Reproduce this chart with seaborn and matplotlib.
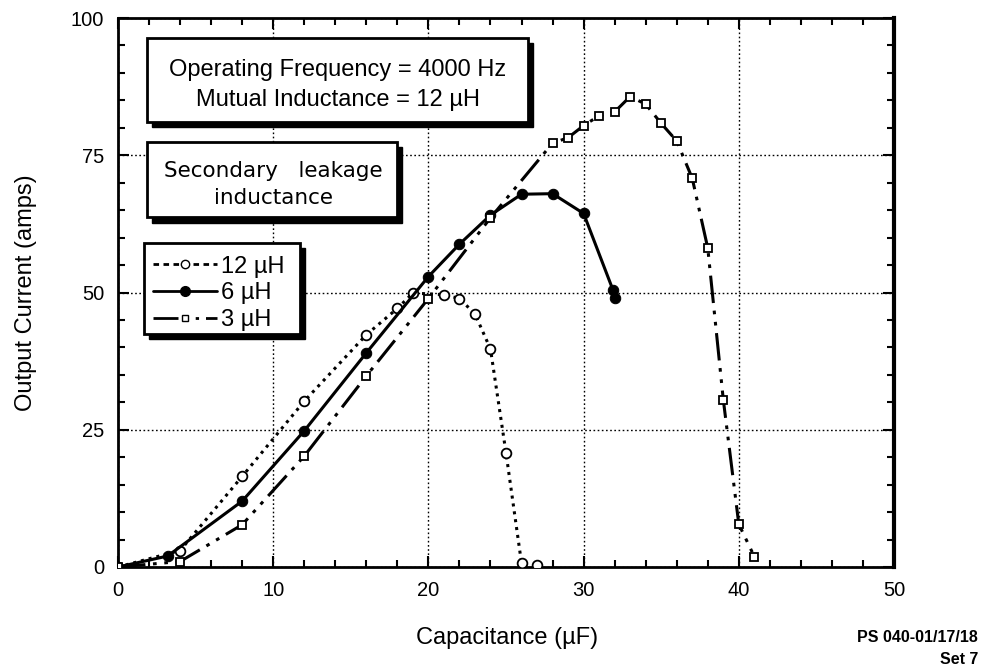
import matplotlib
matplotlib.use("Agg")
import matplotlib.pyplot as plt
from matplotlib.patches import Rectangle
from matplotlib.lines import Line2D
import seaborn as sns
import pandas as pd

# ---- data ----
cap_12uH = [0, 4, 8, 12, 16, 18, 19, 21, 22, 23, 24, 25, 26, 27]
cur_12uH = [0, 3, 16.5, 30.2, 42.3, 47.1, 49.9, 49.6, 48.9, 46.1, 39.7, 20.8, 0.7, 0.3]

cap_6uH = [0, 3.2, 8, 12, 16, 20, 22, 24, 26, 28, 30, 31.9, 32]
cur_6uH = [0, 2.0, 12.0, 24.8, 39.0, 52.9, 58.8, 64.1, 67.9, 68.0, 64.4, 50.4, 49.0]

cap_3uH = [0, 4, 8, 12, 16, 20, 24, 28, 29, 30, 31, 32, 33, 34, 35, 36, 37, 38, 39, 40, 41]
cur_3uH = [0, 1.0, 7.7, 20.2, 34.8, 48.9, 63.6, 77.2, 78.2, 80.4, 82.2, 82.9, 85.7,
           84.3, 80.8, 77.6, 70.8, 58.1, 30.5, 7.8, 1.9]

x_ticks = [0, 10, 20, 30, 40, 50]
y_ticks = [0, 25, 50, 75, 100]

series_labels = ["12 \u00b5H", "6 \u00b5H", "3 \u00b5H"]
info_lines = ["Operating Frequency = 4000 Hz", "Mutual Inductance = 12 \u00b5H"]
box2_lines = ["Secondary   leakage", "inductance"]

sns.set_theme(style="white")
plt.rcParams['font.family'] = ['Liberation Sans', 'DejaVu Sans']
for k in ["text.color", "axes.labelcolor", "xtick.color", "ytick.color", "axes.edgecolor"]:
    plt.rcParams[k] = "black"

fig = plt.figure(figsize=(9.82, 6.72), dpi=100)
ax = fig.add_axes([118/982, 1-567/672, (894-118)/982, (567-18)/672])

df12 = pd.DataFrame({"x": cap_12uH, "y": cur_12uH})
df6 = pd.DataFrame({"x": cap_6uH, "y": cur_6uH})
df3 = pd.DataFrame({"x": cap_3uH, "y": cur_3uH})

DASH12 = [1.0, 1.6]
DASH3 = [9, 2.5, 1.2, 2.5, 1.2, 2.5]

sns.lineplot(data=df12, x="x", y="y", ax=ax, color="black", estimator=None, sort=False,
             marker="o", markersize=7, markerfacecolor="white", markeredgecolor="black",
             markeredgewidth=1.3, linewidth=2.2, zorder=5)
ax.lines[-1].set_dashes(DASH12)

sns.lineplot(data=df6, x="x", y="y", ax=ax, color="black", estimator=None, sort=False,
             marker="o", markersize=7.5, markerfacecolor="black", markeredgecolor="black",
             linewidth=2.2, zorder=5)

sns.lineplot(data=df3, x="x", y="y", ax=ax, color="black", estimator=None, sort=False,
             marker="s", markersize=6, markerfacecolor="white", markeredgecolor="black",
             markeredgewidth=1.3, linewidth=2.2, zorder=5)
ax.lines[-1].set_dashes(DASH3)

ax.set_xlim(0, 50)
ax.set_ylim(0, 100)
ax.set_xticks(x_ticks)
ax.set_yticks(y_ticks)
ax.set_xticks(range(0, 51, 2), minor=True)
ax.set_yticks(range(0, 101, 5), minor=True)
ax.tick_params(which="both", direction="in", top=True, right=True, bottom=True, left=True,
               colors="black", width=1.5)
ax.tick_params(which="major", length=8, labelsize=14.5, pad=10)
ax.tick_params(which="minor", length=5)
ax.set_xticklabels([str(v) for v in x_ticks])
ax.set_yticklabels([str(v) for v in y_ticks])

ax.grid(True, which="major", color="black", linestyle=(0, (1.2, 1.8)), linewidth=1.0)
ax.set_axisbelow(True)
for side in ["left", "bottom", "top"]:
    ax.spines[side].set_linewidth(2.0)
ax.spines["right"].set_linewidth(3.0)

ax.set_xlabel("Capacitance (\u00b5F)", fontsize=17)
ax.set_ylabel("Output Current (amps)", fontsize=17)
ax.xaxis.set_label_coords(0.501, -0.109)
ax.yaxis.set_label_coords(-0.104, 0.499)

# ---- boxes with shadows (axes fraction) ----
def shadow_box(x0, y0, x1, y1, dx=0.0065, dy=0.0095):
    ax.add_patch(Rectangle((x0 + dx, y0 - dy), x1 - x0, y1 - y0, transform=ax.transAxes,
                           facecolor="black", edgecolor="black", zorder=8, clip_on=False))
    ax.add_patch(Rectangle((x0, y0), x1 - x0, y1 - y0, transform=ax.transAxes,
                           facecolor="white", edgecolor="black", linewidth=2.0, zorder=9,
                           clip_on=False))

shadow_box(0.0374, 0.8106, 0.528, 0.9636)
ax.text(0.2835, 0.905, info_lines[0], transform=ax.transAxes, ha="center", va="center",
        fontsize=17, zorder=10)
ax.text(0.2835, 0.8506, info_lines[1], transform=ax.transAxes, ha="center", va="center",
        fontsize=17, zorder=10)

shadow_box(0.0374, 0.637, 0.359, 0.774)
ax.text(0.2, 0.722, box2_lines[0], transform=ax.transAxes, ha="center", va="center",
        fontsize=15.5, fontfamily="DejaVu Sans", zorder=10)
ax.text(0.2, 0.672, box2_lines[1], transform=ax.transAxes, ha="center", va="center",
        fontsize=15.5, fontfamily="DejaVu Sans", zorder=10)

# legend box
shadow_box(0.0335, 0.424, 0.2345, 0.590)
handles = [
    Line2D([0], [0], color="black", lw=2, dashes=[2.0, 1.6], marker="o", markersize=6,
           markerfacecolor="white", markeredgecolor="black"),
    Line2D([0], [0], color="black", lw=2, marker="o", markersize=7, markerfacecolor="black"),
    Line2D([0], [0], color="black", lw=2, dashes=DASH3, marker="s",
           markersize=5, markerfacecolor="white", markeredgecolor="black"),
]
leg = ax.legend(handles, series_labels, loc="upper left", bbox_to_anchor=(0.036, 0.580),
                frameon=False, fontsize=17, handlelength=2.7, handletextpad=0.2,
                labelspacing=0.2, borderaxespad=0, borderpad=0.3, numpoints=1,
                markerfirst=True)
leg.set_zorder(11)

fig.text(978/982, 1-637/672, "PS 040-01/17/18", ha="right", va="center", fontsize=11.5,
         fontweight="bold")
fig.text(978/982, 1-660/672, "Set 7", ha="right", va="center", fontsize=11.5,
         fontweight="bold")

fig.savefig("out.png", dpi=100, facecolor="white")
